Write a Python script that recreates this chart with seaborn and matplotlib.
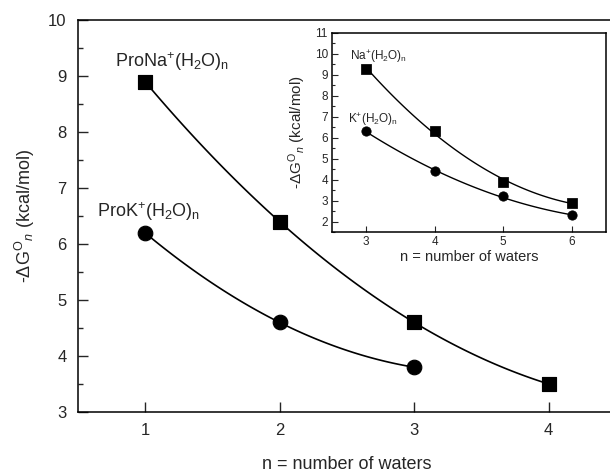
import numpy as np
import pandas as pd
import matplotlib as mpl
mpl.use("Agg")
import matplotlib.pyplot as plt
import seaborn as sb
from matplotlib.ticker import MultipleLocator

# данные основного графика (Pro + ион + вода)
n_na = [1, 2, 3, 4]
dg_na = [8.9, 6.4, 4.6, 3.5]
n_k = [1, 2, 3]
dg_k = [6.2, 4.6, 3.8]

# данные вставки (ион + вода)
n_na_ins = [3, 4, 5, 6]
dg_na_ins = [9.3, 6.3, 3.9, 2.9]
n_k_ins = [3, 4, 5, 6]
dg_k_ins = [6.3, 4.4, 3.2, 2.3]

main_xticks = [1, 2, 3, 4]
main_yticks = [3, 4, 5, 6, 7, 8, 9, 10]
ins_xticks = [3, 4, 5, 6]
ins_yticks = [2, 3, 4, 5, 6, 7, 8, 9, 10, 11]

sb.set_style("ticks")
plt.rcParams['font.family'] = ['Liberation Sans', 'DejaVu Sans']
plt.rcParams['mathtext.fontset'] = 'custom'
plt.rcParams['mathtext.rm'] = 'Liberation Sans'
plt.rcParams['mathtext.it'] = 'Liberation Sans:italic'
plt.rcParams['axes.edgecolor'] = 'black'
plt.rcParams['axes.linewidth'] = 1.1

NA = pd.DataFrame({'n': n_na, 'dg': dg_na})
K = pd.DataFrame({'n': n_k, 'dg': dg_k})
NAi = pd.DataFrame({'n': n_na_ins, 'dg': dg_na_ins})
Ki = pd.DataFrame({'n': n_k_ins, 'dg': dg_k_ins})

fig = plt.figure(figsize=(6.1, 4.72), dpi=100)
ax = fig.add_axes([0.1274, 0.1271, 0.8825, 0.8305])

line_kw = {'color': 'black', 'lw': 1.2}
sb.regplot(data=NA, x='n', y='dg', order=2, ci=None, scatter=False, line_kws=line_kw, ax=ax)
sb.regplot(data=K, x='n', y='dg', order=2, ci=None, scatter=False, line_kws=line_kw, ax=ax)
sb.scatterplot(data=NA, x='n', y='dg', marker='s', s=110, color='black', edgecolor='black', ax=ax, zorder=5)
sb.scatterplot(data=K, x='n', y='dg', marker='o', s=110, color='black', edgecolor='black', ax=ax, zorder=5)

ax.set_xlim(0.5, 4.5)
ax.set_ylim(3, 10)
ax.set_xticks(main_xticks)
ax.set_yticks(main_yticks)
ax.yaxis.set_minor_locator(MultipleLocator(0.5))
ax.tick_params(axis='both', which='both', direction='in')
ax.tick_params(axis='both', which='major', labelsize=12, length=7, width=1, pad=8)
ax.tick_params(axis='y', which='minor', length=3.6, width=1)
ax.set_xlabel("n = number of waters", fontsize=13, labelpad=13)
ax.set_ylabel(r"-$\mathit{\Delta}$G$^{\mathrm{O}}$$_{n}$ (kcal/mol)", fontsize=13, labelpad=8)

ax.text(0.777, 9.16, r"ProNa$^{+}$(H$_{2}$O)$_{\mathrm{n}}$", fontsize=13)
ax.text(0.643, 6.48, r"ProK$^{+}$(H$_{2}$O)$_{\mathrm{n}}$", fontsize=13)

# вставка
axi = fig.add_axes([0.5443, 0.5085, 0.4492, 0.4216])
axi.set_facecolor('white')
line_kw_i = {'color': 'black', 'lw': 1.0}
sb.regplot(data=NAi, x='n', y='dg', order=2, ci=None, scatter=False, line_kws=line_kw_i, ax=axi)
sb.regplot(data=Ki, x='n', y='dg', order=2, ci=None, scatter=False, line_kws=line_kw_i, ax=axi)
sb.scatterplot(data=NAi, x='n', y='dg', marker='s', s=45, color='black', edgecolor='black', ax=axi, zorder=5)
sb.scatterplot(data=Ki, x='n', y='dg', marker='o', s=45, color='black', edgecolor='black', ax=axi, zorder=5)

axi.set_xlim(2.5, 6.5)
axi.set_ylim(1.5, 11)
axi.set_xticks(ins_xticks)
axi.set_yticks(ins_yticks)
axi.yaxis.set_minor_locator(MultipleLocator(0.5))
axi.tick_params(axis='both', which='both', direction='in')
axi.tick_params(axis='both', which='major', labelsize=8.5, length=4, width=0.8, pad=3)
axi.tick_params(axis='y', which='minor', length=2, width=0.8)
axi.set_xlabel("n = number of waters", fontsize=10.5, labelpad=1)
axi.set_ylabel(r"-$\mathit{\Delta}$G$^{\mathrm{O}}$$_{n}$ (kcal/mol)", fontsize=11, labelpad=5)

axi.text(2.76, 9.71, r"Na$^{+}$(H$_{2}$O)$_{\mathrm{n}}$", fontsize=8.5)
axi.text(2.74, 6.70, r"K$^{+}$(H$_{2}$O)$_{\mathrm{n}}$", fontsize=8.5)

fig.savefig("out.png", dpi=100)
